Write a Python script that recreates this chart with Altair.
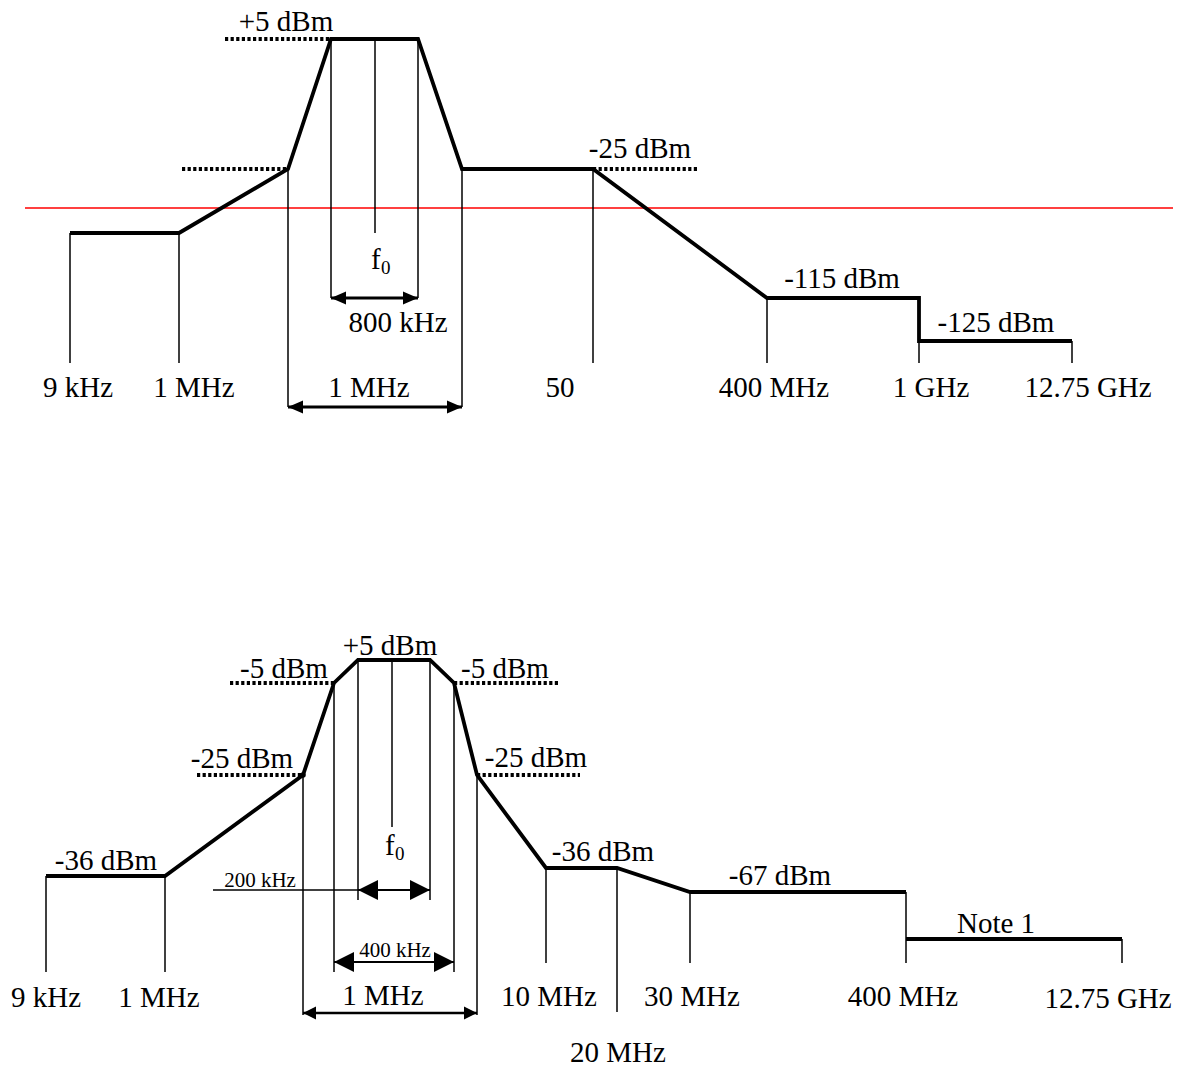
import altair as alt
import pandas as pd

# ---------------- schematic data (diagram units) ----------------
# Thick mask polylines
mask_seg = (["top"] * 11) + (["bot"] * 12) + (["note"] * 2)
mask_x = [70, 179, 288, 331, 418, 462, 593, 767, 919, 919, 1072,
          46, 165, 303, 334, 358, 430, 454, 477, 546, 617, 690, 906,
          906, 1122]
mask_y = [233, 233, 169, 39, 39, 169, 169, 298, 298, 341, 341,
          876, 876, 775, 683, 660, 660, 683, 775, 868, 868, 892, 892,
          939, 939]

# Thin vertical marker lines
vert_x = [70, 179, 288, 331, 375, 418, 462, 593, 767, 919, 1072,
          46, 165, 303, 334, 358, 392, 430, 454, 477, 546, 617, 690, 906, 1122]
vert_y1 = [233, 233, 169, 39, 39, 39, 169, 169, 298, 341, 341,
           876, 876, 775, 683, 660, 660, 660, 683, 775, 868, 868, 892, 892, 939]
vert_y2 = [363, 363, 407, 298, 233, 298, 407, 363, 363, 363, 363,
           972, 972, 1015, 972, 900, 827, 900, 972, 1015, 963, 1012, 963, 963, 963]

# Dotted reference levels
dot_x1 = [225, 182, 593, 230, 454, 197, 477]
dot_x2 = [331, 287, 698, 334, 560, 303, 580]
dot_y = [39, 169, 169, 683, 683, 775, 775]

# Red reference line
red_x1, red_x2, red_y = [25], [1178], [208]

# Dimension lines (shaft) and their arrow heads
dim_x1 = [331, 288, 213, 358, 334, 303]
dim_x2 = [418, 462, 358, 430, 454, 477]
dim_y = [298, 407, 890, 890, 962, 1013]
dim_w = [3, 3, 1.5, 2, 2, 2.5]
dim_heads = [True, True, False, True, True, True]
head_len = [15, 15, 0, 20, 20, 13]
head_path_l = ["M0,0L2,-0.87L2,0.87Z", "M0,0L2,-0.87L2,0.87Z", "",
               "M0,0L2,-1L2,1Z", "M0,0L2,-1L2,1Z", "M0,0L2,-1L2,1Z"]
head_path_r = ["M0,0L-2,-0.87L-2,0.87Z", "M0,0L-2,-0.87L-2,0.87Z", "",
               "M0,0L-2,-1L-2,1Z", "M0,0L-2,-1L-2,1Z", "M0,0L-2,-1L-2,1Z"]

# Text labels
lab_text = ["+5 dBm", "-25 dBm", "-115 dBm", "-125 dBm", "800 kHz", "1 MHz",
            "9 kHz", "1 MHz", "50", "400 MHz", "1 GHz", "12.75 GHz",
            "+5 dBm", "-5 dBm", "-5 dBm", "-25 dBm", "-25 dBm", "-36 dBm", "-36 dBm",
            "-67 dBm", "Note 1", "200 kHz", "400 kHz", "1 MHz",
            "9 kHz", "1 MHz", "10 MHz", "30 MHz", "400 MHz", "12.75 GHz", "20 MHz"]
lab_x = [286, 640, 842, 996, 398, 369,
         78, 194, 560, 774, 931, 1088,
         390, 284, 505, 242, 536, 106, 603,
         780, 996, 260, 395, 383,
         46, 159, 549, 692, 903, 1108, 618]
lab_y = [31, 158, 288, 332, 332, 397,
         397, 397, 397, 397, 397, 397,
         655, 678, 678, 768, 767, 870, 861,
         885, 933, 887, 957, 1005,
         1007, 1007, 1006, 1006, 1006, 1008, 1062]
lab_size = [29, 29, 29, 29, 29, 29,
            29, 29, 29, 29, 29, 29,
            29, 29, 29, 29, 29, 29, 29,
            29, 29, 21, 21, 29,
            29, 29, 29, 29, 29, 29, 29]

# f0 symbols (carrier centre)
f_x = [371, 385]
f_y = [269, 855]

# ---------------- build tables ----------------
mask_df = pd.DataFrame({"seg": mask_seg, "x": mask_x, "y": mask_y})
mask_df["ord"] = range(len(mask_df))
vert_df = pd.DataFrame({"x": vert_x, "y": vert_y1, "y2": vert_y2})
dot_df = pd.DataFrame({"x": dot_x1, "x2": dot_x2, "y": dot_y})
red_df = pd.DataFrame({"x": red_x1, "x2": red_x2, "y": red_y})
dim_df = pd.DataFrame({"x": dim_x1, "x2": dim_x2, "y": dim_y, "w": dim_w})

heads = []
for i in range(len(dim_x1)):
    if dim_heads[i]:
        s = head_len[i] ** 2
        heads.append({"x": dim_x1[i], "y": dim_y[i], "shape": head_path_l[i], "s": s})
        heads.append({"x": dim_x2[i], "y": dim_y[i], "shape": head_path_r[i], "s": s})
head_df = pd.DataFrame(heads)

lab_df = pd.DataFrame({"x": lab_x, "y": lab_y, "text": lab_text, "fs": lab_size})
f_df = pd.DataFrame({"x": f_x, "y": f_y, "text": ["f"] * 2})
f0_df = pd.DataFrame({"x": [v + 10 for v in f_x], "y": [v + 5 for v in f_y], "text": ["0"] * 2})
dot_pt_df = pd.DataFrame({"x": [303], "y": [775]})

W, H = 1165, 1063
xs = alt.Scale(domain=[8, 8 + W], nice=False, zero=False)
ys = alt.Scale(domain=[8, 8 + H], nice=False, zero=False, reverse=True)
X = alt.X("x:Q", scale=xs, axis=None)
Y = alt.Y("y:Q", scale=ys, axis=None)
FONT = "Liberation Serif"

mask = alt.Chart(mask_df).mark_line(color="black", strokeWidth=3.8, strokeJoin="miter").encode(
    x=X, y=Y, detail="seg:N", order="ord:Q")

verts = alt.Chart(vert_df).mark_rule(color="black", strokeWidth=1.5).encode(
    x=X, y=Y, y2="y2:Q")

dots = alt.Chart(dot_df).mark_rule(color="black", strokeWidth=3.8, strokeDash=[3.2, 2.4]).encode(
    x=X, x2="x2:Q", y=Y)

red = alt.Chart(red_df).mark_rule(color="#ff0000", strokeWidth=1.5).encode(
    x=X, x2="x2:Q", y=Y)

dims = alt.Chart(dim_df).mark_rule(color="black").encode(
    x=X, x2="x2:Q", y=Y, strokeWidth=alt.StrokeWidth("w:Q", scale=None, legend=None))

arrowheads = alt.Chart(head_df).mark_point(filled=True, opacity=1, color="black", strokeWidth=0).encode(
    x=X, y=Y,
    shape=alt.Shape("shape:N", scale=None, legend=None),
    size=alt.Size("s:Q", scale=None, legend=None))

corner_dot = alt.Chart(dot_pt_df).mark_point(filled=True, opacity=1, color="black", size=30).encode(x=X, y=Y)

labels = alt.Chart(lab_df).mark_text(font=FONT, align="center", baseline="alphabetic", color="black").encode(
    x=X, y=Y, text="text:N", size=alt.Size("fs:Q", scale=None, legend=None))

f_txt = alt.Chart(f_df).mark_text(font=FONT, align="left", baseline="alphabetic", fontSize=29, color="black").encode(
    x=X, y=Y, text="text:N")
f0_txt = alt.Chart(f0_df).mark_text(font=FONT, align="left", baseline="alphabetic", fontSize=19, color="black").encode(
    x=X, y=Y, text="text:N")

chart = alt.layer(red, verts, dims, dots, mask, arrowheads, corner_dot, labels, f_txt, f0_txt).properties(
    width=W, height=H, padding=0, autosize=alt.AutoSizeParams(type="none"),
    background="white"
).configure_view(stroke=None)

chart.save("out.html", embed_options={"renderer": "svg", "actions": False})
